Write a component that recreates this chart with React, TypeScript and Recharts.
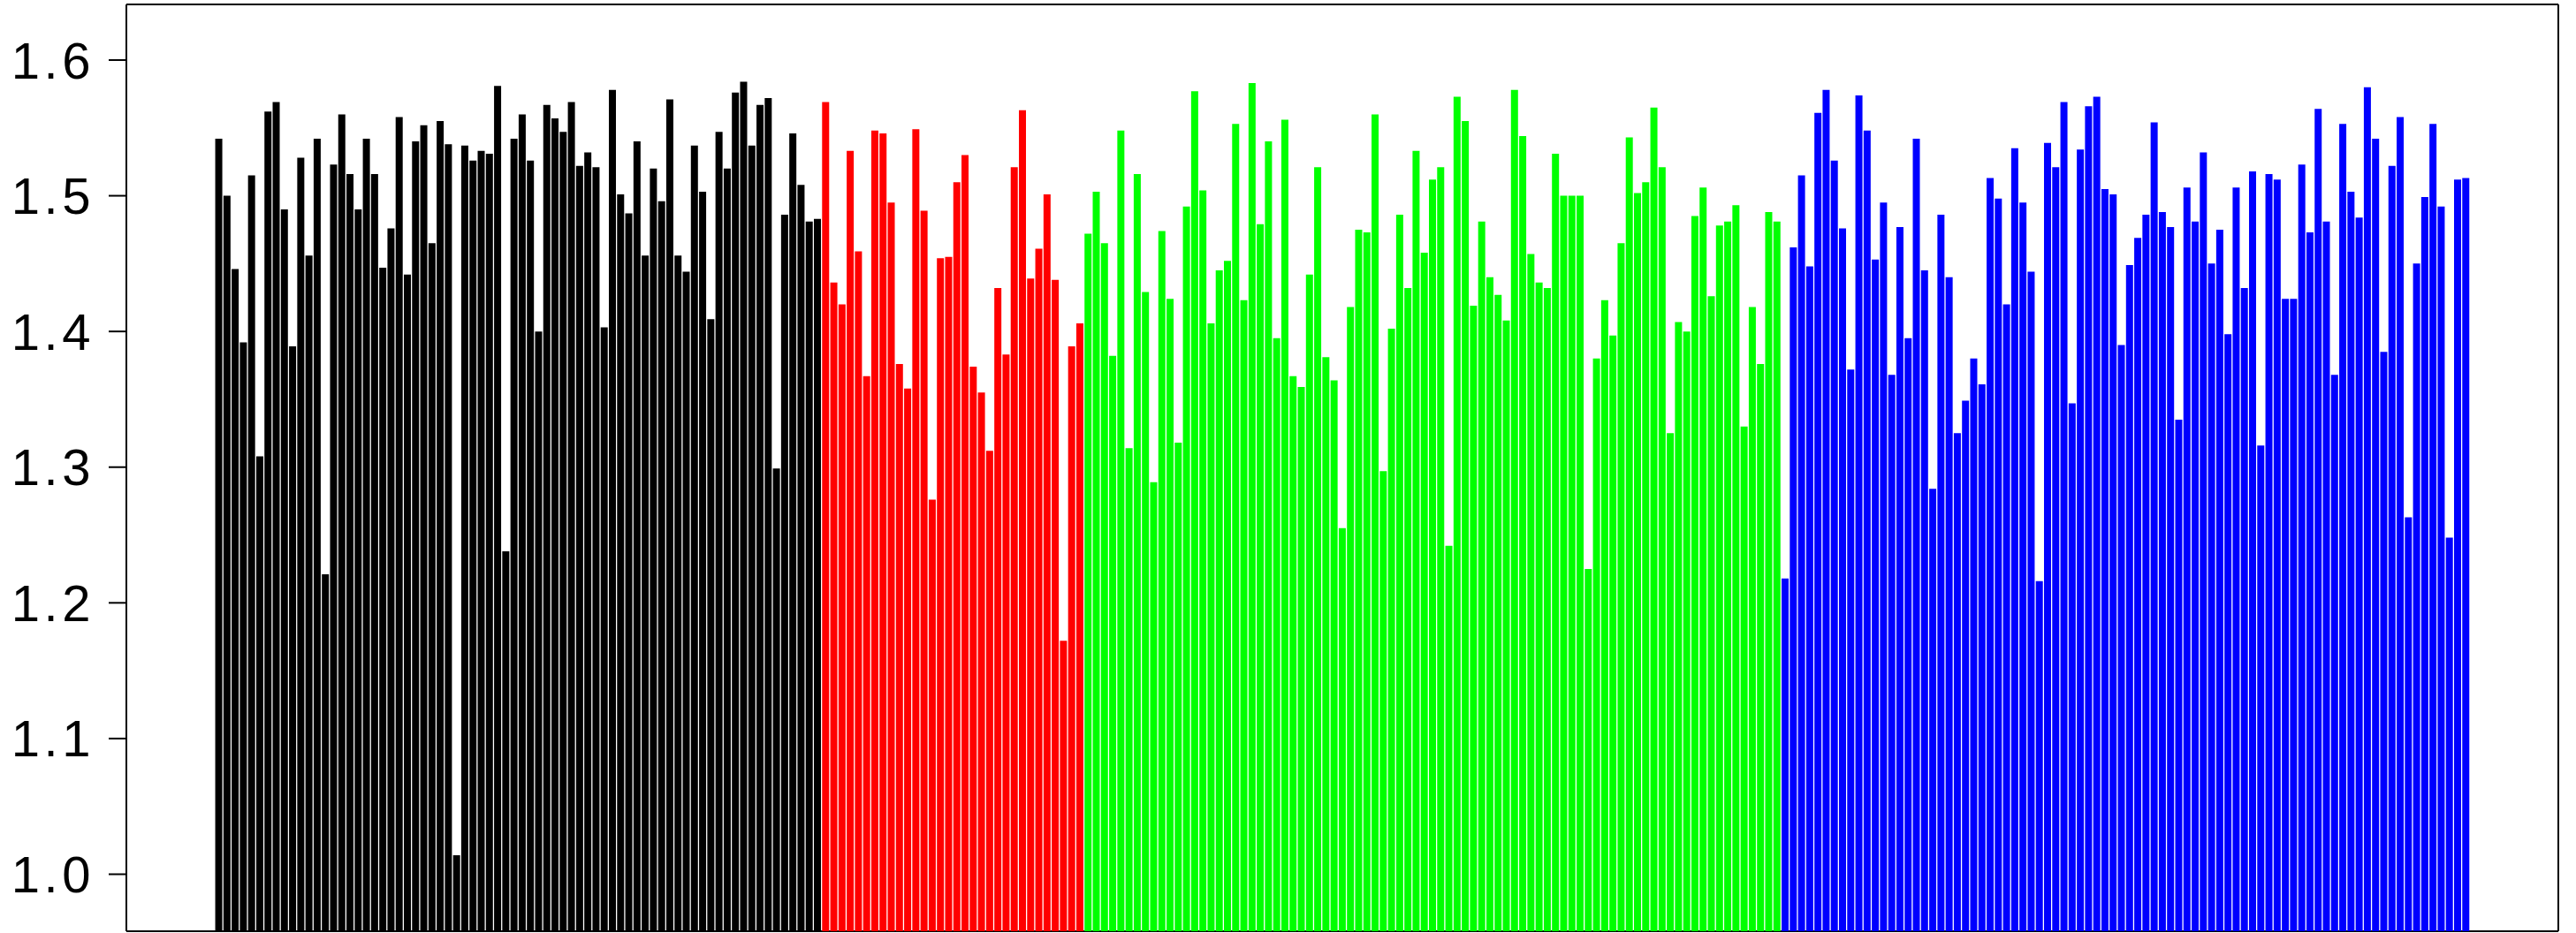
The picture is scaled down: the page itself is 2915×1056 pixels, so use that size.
import React from 'react';
import { BarChart, Bar, Cell, XAxis, YAxis, CartesianGrid } from 'recharts';

const blackValues = [
  1.542, 1.5, 1.446, 1.392, 1.515, 1.308, 1.562, 1.569, 1.49, 1.389,
  1.528, 1.456, 1.542, 1.221, 1.523, 1.56, 1.516, 1.49, 1.542, 1.516,
  1.447, 1.476, 1.558, 1.442, 1.54, 1.552, 1.465, 1.555, 1.538, 1.014,
  1.537, 1.526, 1.533, 1.531, 1.581, 1.238, 1.542, 1.56, 1.526, 1.4,
  1.567, 1.557, 1.547, 1.569, 1.522, 1.532, 1.521, 1.403, 1.578, 1.501,
  1.487, 1.54, 1.456, 1.52, 1.496, 1.571, 1.456, 1.444, 1.537, 1.503,
  1.409, 1.547, 1.52, 1.576, 1.584, 1.537, 1.567, 1.572, 1.299, 1.486,
  1.546, 1.508, 1.481, 1.483,
];

const redValues = [
  1.569, 1.436, 1.42, 1.533, 1.459, 1.367, 1.548, 1.546, 1.495, 1.376,
  1.358, 1.549, 1.489, 1.276, 1.454, 1.455, 1.51, 1.53, 1.374, 1.355,
  1.312, 1.432, 1.383, 1.521, 1.563, 1.439, 1.461, 1.501, 1.438, 1.172,
  1.389, 1.406,
];

const greenValues = [
  1.472, 1.503, 1.465, 1.382, 1.548, 1.314, 1.516, 1.429, 1.289, 1.474,
  1.424, 1.318, 1.492, 1.577, 1.504, 1.406, 1.445, 1.452, 1.553, 1.423,
  1.583, 1.479, 1.54, 1.395, 1.556, 1.367, 1.359, 1.442, 1.521, 1.381,
  1.364, 1.255, 1.418, 1.475, 1.473, 1.56, 1.297, 1.402, 1.486, 1.432,
  1.533, 1.458, 1.512, 1.521, 1.242, 1.573, 1.555, 1.419, 1.481, 1.44,
  1.427, 1.408, 1.578, 1.544, 1.457, 1.436, 1.432, 1.531, 1.5, 1.5,
  1.5, 1.225, 1.38, 1.423, 1.397, 1.465, 1.543, 1.502, 1.51, 1.565,
  1.521, 1.325, 1.407, 1.4, 1.485, 1.506, 1.426, 1.478, 1.481, 1.493,
  1.33, 1.418, 1.376, 1.488, 1.481,
];

const blueValues = [
  1.218, 1.462, 1.515, 1.448, 1.561, 1.578, 1.526, 1.476, 1.372, 1.574,
  1.548, 1.453, 1.495, 1.368, 1.477, 1.395, 1.542, 1.445, 1.284, 1.486,
  1.44, 1.325, 1.349, 1.38, 1.361, 1.513, 1.498, 1.42, 1.535, 1.495,
  1.444, 1.216, 1.539, 1.521, 1.569, 1.347, 1.534, 1.566, 1.573, 1.505,
  1.501, 1.39, 1.449, 1.469, 1.486, 1.554, 1.488, 1.477, 1.335, 1.506,
  1.481, 1.532, 1.45, 1.475, 1.398, 1.506, 1.432, 1.518, 1.316, 1.516,
  1.512, 1.424, 1.424, 1.523, 1.473, 1.564, 1.481, 1.368, 1.553, 1.503,
  1.484, 1.58, 1.542, 1.385, 1.522, 1.558, 1.263, 1.45, 1.499, 1.553,
  1.492, 1.248, 1.512, 1.513,
];

const groups = [
  { values: blackValues, color: '#000000' },
  { values: redValues, color: '#FF0000' },
  { values: greenValues, color: '#00FF00' },
  { values: blueValues, color: '#0000FF' },
];

const yTicks = [1.0, 1.1, 1.2, 1.3, 1.4, 1.5, 1.6];

const rows = groups.flatMap((g) => g.values.map((v) => ({ value: v, color: g.color })))
  .map((r, i) => ({ ...r, idx: i + 1 }));

export default function App() {
  return (
    <div style={{ position: 'fixed', left: 0, top: 0, width: 2915, height: 1056, background: '#fff' }}>
      <BarChart
        width={2915}
        height={1056}
        data={rows}
        margin={{ top: 5, right: 20, bottom: 2, left: 0 }}
        barCategoryGap="6%"
      >
        <CartesianGrid
          stroke="#000"
          strokeWidth={2}
          horizontalCoordinatesGenerator={({ offset }: any) => [offset.top, offset.top + offset.height]}
          verticalCoordinatesGenerator={({ offset }: any) => [offset.left, offset.left + offset.width]}
        />
        <XAxis dataKey="idx" hide padding={{ left: 100, right: 100 }} />
        <YAxis
          width={143}
          domain={[0.958, 1.641]}
          allowDataOverflow
          ticks={yTicks}
          interval={0}
          tickFormatter={(v: number) => v.toFixed(1)}
          tick={{ fontSize: 58, fill: '#000', fontFamily: 'Liberation Sans, Arial, Helvetica, sans-serif', letterSpacing: 4.5 }}
          tickSize={20}
          tickMargin={16}
          axisLine={false}
          tickLine={{ stroke: '#000', strokeWidth: 2 }}
        />
        <Bar dataKey="value" isAnimationActive={false}>
          {rows.map((r) => (
            <Cell key={`bar-${r.idx}`} fill={r.color} />
          ))}
        </Bar>
      </BarChart>
    </div>
  );
}
